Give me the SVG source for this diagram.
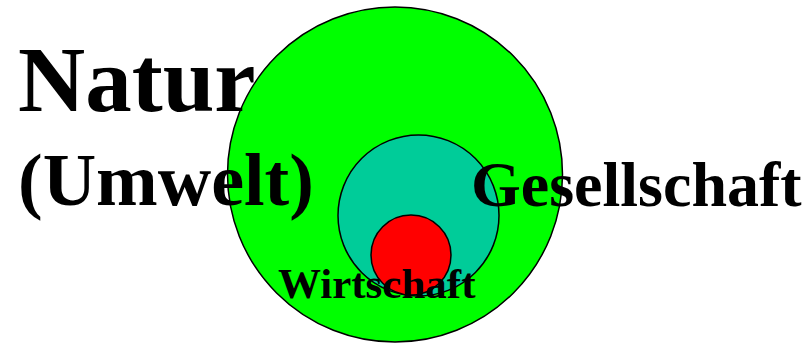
<svg xmlns="http://www.w3.org/2000/svg" width="808" height="343" viewBox="0 0 808 343">
<style>
circle{stroke:#000;stroke-width:1.5}
text{font-family:"Liberation Serif","Times New Roman",serif;font-weight:bold;fill:#000}
</style>
<rect width="808" height="343" fill="#fff"/>
<g id="natur-circle"><circle cx="395" cy="174.5" r="167.5" fill="#00ff00"/></g>
<g id="gesellschaft-circle"><circle cx="418.5" cy="215.5" r="80.5" fill="#00cc99"/></g>
<g id="wirtschaft-circle"><circle cx="411" cy="255" r="40" fill="#ff0000"/></g>
<g id="connectors"/>
<g id="labels">
<text x="18" y="111" font-size="93">Natur</text>
<text x="18" y="205" font-size="74">(Umwelt)</text>
<text x="471" y="206" font-size="64">Gesellschaft</text>
<text x="278" y="298" font-size="43">Wirtschaft</text>
</g>
</svg>
